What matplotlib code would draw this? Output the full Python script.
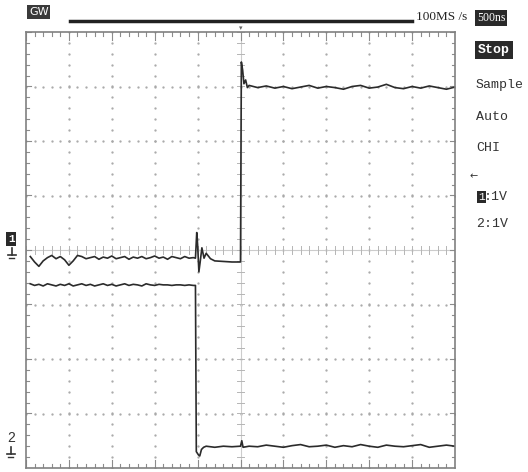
import numpy as np
import matplotlib.pyplot as plt

W, H = 528, 472

# trace data, in divisions (x: 0..10 time div, y: -4..4 volt div)
ch1_pre_t = [0.1, 0.2, 0.3, 0.4, 0.5, 0.6, 0.7, 0.8, 0.9, 1.0, 1.1, 1.2, 1.3,
             1.4, 1.5, 1.6, 1.7, 1.8, 1.9, 2.0, 2.1, 2.2, 2.3, 2.4, 2.5, 2.6,
             2.7, 2.8, 2.9, 3.0, 3.1, 3.2, 3.3, 3.4, 3.5, 3.6, 3.7, 3.8, 3.9]
ch1_pre_v = [-0.12, -0.22, -0.30, -0.20, -0.14, -0.10, -0.16, -0.12, -0.18,
             -0.28, -0.20, -0.10, -0.12, -0.16, -0.14, -0.12, -0.17, -0.13,
             -0.15, -0.11, -0.16, -0.14, -0.12, -0.17, -0.13, -0.15, -0.12,
             -0.16, -0.14, -0.11, -0.15, -0.13, -0.17, -0.12, -0.14, -0.16,
             -0.12, -0.15, -0.14]
ch1_edge_t = [3.95, 3.98, 4.00, 4.03, 4.06, 4.10, 4.15, 4.20, 4.30, 4.40,
              4.60, 4.80, 5.00, 5.02, 5.05, 5.08, 5.12, 5.16, 5.20]
ch1_edge_v = [-0.15, 0.32, 0.10, -0.40, -0.22, 0.04, -0.15, -0.06, -0.16,
              -0.20, -0.21, -0.22, -0.22, 3.45, 3.30, 3.05, 3.12, 2.98, 3.02]
ch1_post_t = [5.4, 5.6, 5.8, 6.0, 6.2, 6.4, 6.6, 6.8, 7.0, 7.2, 7.4, 7.6,
              7.8, 8.0, 8.2, 8.4, 8.6, 8.8, 9.0, 9.2, 9.4, 9.6, 9.8, 10.0]
ch1_post_v = [2.98, 3.01, 2.97, 3.00, 2.96, 2.99, 3.02, 2.97, 3.00, 2.98,
              2.95, 3.00, 3.02, 2.97, 2.99, 3.04, 2.98, 2.96, 3.00, 2.97,
              3.01, 2.98, 2.95, 2.99]

ch2_pre_t = ch1_pre_t
ch2_pre_v = [-0.62, -0.65, -0.63, -0.66, -0.62, -0.64, -0.66, -0.63, -0.65,
             -0.62, -0.66, -0.64, -0.62, -0.65, -0.63, -0.66, -0.64, -0.62,
             -0.65, -0.63, -0.66, -0.64, -0.62, -0.65, -0.63, -0.64, -0.66,
             -0.62, -0.64, -0.65, -0.63, -0.64, -0.64, -0.65, -0.64, -0.64,
             -0.65, -0.64, -0.65]
ch2_edge_t = [3.95, 3.97, 4.02, 4.05, 4.09, 4.14, 4.20, 4.40, 4.60, 4.80,
              5.00, 5.03, 5.06, 5.20]
ch2_edge_v = [-0.65, -3.70, -3.76, -3.78, -3.66, -3.62, -3.60, -3.62, -3.60,
              -3.61, -3.60, -3.50, -3.62, -3.60]
ch2_post_t = ch1_post_t
ch2_post_v = [-3.61, -3.58, -3.60, -3.62, -3.59, -3.57, -3.61, -3.60, -3.58,
              -3.62, -3.59, -3.61, -3.57, -3.60, -3.62, -3.58, -3.60, -3.61,
              -3.59, -3.57, -3.62, -3.60, -3.58, -3.60]

menu_items = ['Sample', 'Auto', 'CHI']
menu_y = [85, 117, 148]
scale_labels = [':1V', '2:1V']
scale_y = [197, 224]

ink = '#2b2b2b'
grid_col = '#a8a8a8'
mono = ['Liberation Mono', 'DejaVu Sans Mono']


def fx(x):
    return x / W


def fy(y):
    return 1 - y / H


def ground_mark(x, y):
    # small probe-ground glyph drawn as strokes (pixel coords)
    fig.add_artist(plt.Line2D([fx(x + 4), fx(x + 4)], [fy(y - 5), fy(y + 2)],
                              color='#333333', lw=1.2))
    fig.add_artist(plt.Line2D([fx(x), fx(x + 8)], [fy(y + 2), fy(y + 2)],
                              color='#333333', lw=1.2))
    fig.add_artist(plt.Line2D([fx(x + 1), fx(x + 6)], [fy(y + 5), fy(y + 5)],
                              color='#333333', lw=1.0))


fig = plt.figure(figsize=(W / 100, H / 100), dpi=100)
fig.patch.set_facecolor('white')

# screen area: left 26px, right 455px, top 32px, bottom 468px
ax = fig.add_axes([fx(26), fy(468), fx(455 - 26), (468 - 32) / H])
ax.set_xlim(0, 10)
ax.set_ylim(-4, 4)
ax.set_xticks([])
ax.set_yticks([])
for s in ax.spines.values():
    s.set_color('#808080')
    s.set_linewidth(1.2)

# dotted graticule
minor_x = np.arange(0, 10.01, 0.2)
minor_y = np.arange(-4, 4.01, 0.2)
for gx in range(1, 10):
    if gx == 5:
        continue
    ax.plot([gx] * len(minor_y), minor_y, ls='none', marker='.',
            ms=1.3, color=grid_col)
for gy in range(-3, 4):
    if gy == 0:
        continue
    ax.plot(minor_x, [gy] * len(minor_x), ls='none', marker='.',
            ms=1.3, color=grid_col)

# centre cross with small ticks
ax.axhline(0, color='#cccccc', lw=0.8)
ax.axvline(5, color='#cccccc', lw=0.8)
for mx in minor_x:
    ax.plot([mx, mx], [-0.07, 0.07], color='#b5b5b5', lw=0.7)
for my in minor_y:
    ax.plot([4.93, 5.07], [my, my], color='#b5b5b5', lw=0.7)

# ticks along the frame edges
for mx in minor_x:
    L = 0.14 if abs(mx - round(mx)) < 1e-6 else 0.08
    ax.plot([mx, mx], [4, 4 - L], color='#8c8c8c', lw=0.8)
    ax.plot([mx, mx], [-4, -4 + L], color='#8c8c8c', lw=0.8)
for my in minor_y:
    L = 0.12 if abs(my - round(my)) < 1e-6 else 0.07
    ax.plot([0, L], [my, my], color='#8c8c8c', lw=0.8)
    ax.plot([10, 10 - L], [my, my], color='#8c8c8c', lw=0.8)

# traces
ax.plot(ch1_pre_t + ch1_edge_t + ch1_post_t,
        ch1_pre_v + ch1_edge_v + ch1_post_v, color=ink, lw=1.2)
ax.plot(ch2_pre_t + ch2_edge_t + ch2_post_t,
        ch2_pre_v + ch2_edge_v + ch2_post_v, color=ink, lw=1.2)

# top status bar
fig.text(fx(29), fy(12), 'GW', fontsize=8, color='white', va='center',
         ha='left', family='DejaVu Sans',
         bbox=dict(boxstyle='square,pad=0.15', fc='#3a3a3a', ec='none'))
fig.add_artist(plt.Line2D([fx(70), fx(412)], [fy(21), fy(21)],
                          color='#222222', lw=2.5))
fig.text(fx(241), fy(28), '▾', fontsize=5, color='#666666',
         ha='center', va='center')
fig.text(fx(416), fy(17), '100MS /s', fontsize=9.5, color='#222222',
         ha='left', va='center', family='Liberation Serif')
fig.text(fx(477), fy(18), '500ns', fontsize=8.5, color='white',
         ha='left', va='center', family='Liberation Serif',
         bbox=dict(boxstyle='square,pad=0.15', fc='#2a2a2a', ec='none'))

# right menu
fig.text(fx(478), fy(50), 'Stop', fontsize=9.5, color='white',
         ha='left', va='center', family=mono, weight='bold',
         bbox=dict(boxstyle='square,pad=0.2', fc='#2a2a2a', ec='none'))
for label, y in zip(menu_items, menu_y):
    fig.text(fx(476), fy(y), label, fontsize=9.5, color='#333333',
             ha='left', va='center', family=mono)
fig.text(fx(470), fy(176), '←', fontsize=7, color='#333333',
         ha='left', va='center', family=['DejaVu Sans'])
fig.text(fx(478), fy(scale_y[0]), '1', fontsize=8, color='white',
         ha='left', va='center', family=mono,
         bbox=dict(boxstyle='square,pad=0.08', fc='#2a2a2a', ec='none'))
fig.text(fx(484), fy(scale_y[0]), scale_labels[0], fontsize=9.5,
         color='#333333', ha='left', va='center', family=mono)
fig.text(fx(476), fy(scale_y[1]), scale_labels[1], fontsize=9.5,
         color='#333333', ha='left', va='center', family=mono)

# channel markers on the left
fig.text(fx(8), fy(239), '1', fontsize=8, color='white', ha='left',
         va='center', family=mono, weight='bold',
         bbox=dict(boxstyle='square,pad=0.15', fc='#2a2a2a', ec='none'))
ground_mark(8, 253)
fig.text(fx(7), fy(438), '2', fontsize=10, color='#333333', ha='left',
         va='center', family='Liberation Sans')
ground_mark(7, 452)

fig.savefig('out.png', dpi=100)
